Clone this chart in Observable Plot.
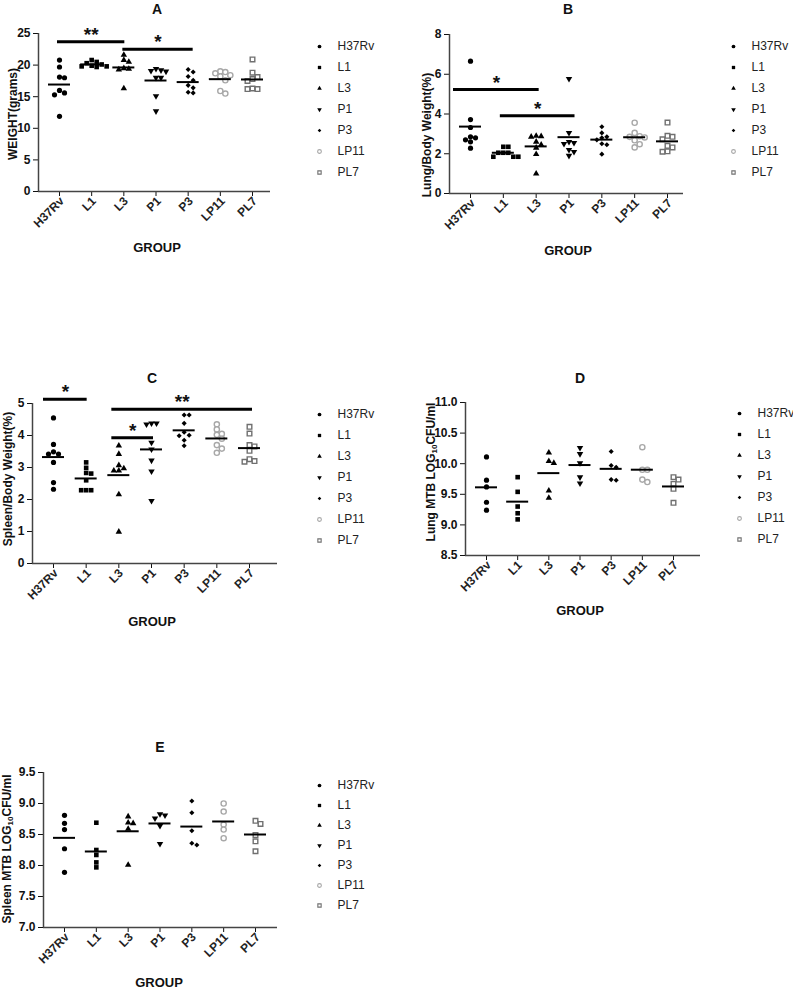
<!DOCTYPE html>
<html><head><meta charset="utf-8">
<script src="https://cdn.jsdelivr.net/npm/d3@7"></script>
<script src="https://cdn.jsdelivr.net/npm/@observablehq/plot@0.6"></script>
<style>
body{margin:0;background:#fff;}
#root{position:relative;width:793px;height:992px;overflow:hidden;font-family:"Liberation Sans",Arial,sans-serif;color:#111;}
.abs{position:absolute;}
.ttl{font-weight:bold;font-size:14px;transform:translate(-50%,-50%);white-space:nowrap;}
.glab{font-weight:bold;font-size:13px;transform:translate(-50%,-50%);white-space:nowrap;}
.ylab{font-weight:bold;font-size:12px;transform:translate(-50%,-50%) rotate(-90deg);white-space:nowrap;}
.ylab sub{font-size:8px;vertical-align:-2px;}
.xlab{position:absolute;font-weight:bold;font-size:12px;line-height:12px;color:#222;white-space:nowrap;transform-origin:100% 50%;transform:translate(-100%,-50%) rotate(-45deg);}
</style></head><body><div id="root"></div>
<script>
// ---------- data ----------
const groups = ["H37Rv","L1","L3","P1","P3","LP11","PL7"];

const weightA = [
  [20.8, 19.7, 18.1, 18.0, 16.0, 15.6, 15.3, 11.9],
  [20.8, 20.5, 20.3, 20.1, 19.9, 19.8, 19.7, 19.8],
  [21.6, 20.8, 20.5, 19.5, 19.4, 19.3, 16.3],
  [19.4, 19.2, 19.1, 19.0, 18.0, 18.0, 15.1, 12.7],
  [19.3, 18.9, 18.2, 17.6, 16.8, 16.4, 15.7, 15.6],
  [19.0, 18.9, 18.7, 18.4, 18.2, 17.6, 15.9, 15.5],
  [20.9, 18.8, 18.1, 17.8, 17.5, 16.3, 16.2, 16.2]
];
const lungB = [
  [6.66, 3.72, 3.32, 2.85, 2.8, 2.7, 2.6, 2.28],
  [2.35, 2.35, 2.05, 2.05, 2.05, 1.85, 1.85, 1.85],
  [2.9, 2.88, 2.85, 2.6, 2.45, 2.3, 1.98, 1.0],
  [5.77, 3.05, 2.6, 2.55, 2.5, 2.2, 2.1, 1.9],
  [3.36, 3.05, 2.85, 2.8, 2.7, 2.5, 2.45, 1.98],
  [3.56, 3.05, 2.88, 2.85, 2.82, 2.68, 2.48, 2.32],
  [3.57, 2.9, 2.85, 2.73, 2.4, 2.32, 2.12, 2.1]
];
const spleenC = [
  [4.55, 3.72, 3.49, 3.42, 3.42, 3.16, 2.53, 2.32],
  [3.16, 2.99, 2.83, 2.81, 2.6, 2.29, 2.29, 2.29],
  [3.68, 3.42, 3.07, 2.97, 2.9, 2.9, 2.16, 0.99],
  [4.38, 4.35, 4.38, 3.78, 3.57, 3.22, 2.88, 1.96],
  [4.64, 4.64, 4.38, 4.1, 4.01, 3.99, 3.85, 3.68],
  [4.35, 4.19, 4.05, 4.02, 3.9, 3.7, 3.59, 3.46],
  [4.27, 4.06, 3.7, 3.66, 3.52, 3.26, 3.2, 3.18]
];
const lungD = [
  [10.11, 9.73, 9.62, 9.37, 9.24],
  [9.78, 9.54, 9.30, 9.19, 9.09],
  [10.18, 10.04, 10.01, 9.56, 9.44],
  [10.26, 10.16, 10.01, 9.78, 9.68],
  [10.2, 9.97, 9.94, 9.74, 9.73],
  [10.27, 9.9, 9.9, 9.74, 9.7],
  [9.78, 9.74, 9.67, 9.59, 9.36]
];
const spleenE = [
  [8.81, 8.68, 8.58, 8.27, 7.89],
  [8.69, 8.25, 8.17, 8.05, 7.97],
  [8.79, 8.69, 8.68, 8.59, 8.01],
  [8.83, 8.81, 8.76, 8.64, 8.35],
  [9.04, 8.85, 8.56, 8.36, 8.33],
  [9.0, 8.87, 8.66, 8.58, 8.44],
  [8.72, 8.67, 8.49, 8.39, 8.23]
];

// significance bars: [from, to, y value, label]
const sigA = [["H37Rv","L3",23.7,"**"],["L3","P3",22.5,"*"]];
const sigB = [["H37Rv","L3",5.23,"*"],["L1","P1",3.91,"*"]];
const sigC = [["H37Rv","L1",5.13,"*"],["L3","PL7",4.82,"**"],["L3","P1",3.93,"*"]];

const ticksA = [0,5,10,15,20,25];
const ticksB = [0,2,4,6,8];
const ticksC = [0,1,2,3,4,5];
const ticksD = [8.5,9.0,9.5,10.0,10.5,11.0];
const ticksE = [7.0,7.5,8.0,8.5,9.0,9.5];

// ---------- styles / layout ----------
const triDown = {draw(ctx, size){ const s3=Math.sqrt(3); const y=Math.sqrt(size/(s3*3)); ctx.moveTo(0,y*2); ctx.lineTo(-s3*y,-y); ctx.lineTo(s3*y,-y); ctx.closePath(); }};
const symStyle = [
  {symbol:"circle", fill:"#000", stroke:"none", r:2.6},
  {symbol:"square", fill:"#000", stroke:"none", r:2.6},
  {symbol:"triangle", fill:"#000", stroke:"none", r:2.4},
  {symbol:triDown, fill:"#000", stroke:"none", r:2.4},
  {symbol:"diamond2", fill:"#000", stroke:"none", r:2.3},
  {symbol:"circle", fill:"#fff", stroke:"#a8a8a8", open:true, r:2.6},
  {symbol:"square", fill:"#fff", stroke:"#707070", open:true, r:2.6}
];
const FONT = "'Liberation Sans', Arial, sans-serif";
const root = document.getElementById("root");

function place(el, left, top){ el.style.position="absolute"; el.style.left=left+"px"; el.style.top=top+"px"; root.appendChild(el); }
function label(cls, html, x, y){ const d=document.createElement("div"); d.className="abs "+cls; d.innerHTML=html; d.style.left=x+"px"; d.style.top=y+"px"; root.appendChild(d); }

function panel(cfg){
  const {values, yDomain, yTicks, fmt, sig, sigPad, L} = cfg;
  const step = (L.c6 - L.c0)/6;
  const xDomain = [(L.fL - L.c0)/step, (L.fR - L.c0)/step];
  const pxY = (L.fB - L.fT)/(yDomain[1]-yDomain[0]);
  const dPx = 5, vThr = 4.6;
  const pts = [];
  values.forEach((vals, gi) => {
    const placed = [];
    [...vals].sort((a,b)=>b-a).forEach(v => {
      const yp = v*pxY;
      for (let k=0;k<20;k++){
        const off = (k===0?0:(k%2? Math.ceil(k/2) : -k/2))*dPx;
        if (!placed.some(p => Math.abs(p.off-off) < dPx*0.95 && Math.abs(p.yp-yp) < vThr)) { placed.push({off, yp}); pts.push({g:gi, v, x: gi + off/step}); break; }
      }
    });
  });
  const means = values.map((vals,gi)=>({g:gi, m:d3.mean(vals)}));
  const hw = 11/step;
  const marks = [
    Plot.axisY({ticks:yTicks, tickFormat:fmt, tickSize:5, tickPadding:3, fontSize:12, fontWeight:"bold", label:null}),
    Plot.axisX({ticks:d3.range(7), tickFormat:()=>"", tickSize:5, label:null}),
    Plot.ruleX([xDomain[0]], {stroke:"#444", strokeWidth:1.5}),
    Plot.ruleY([yDomain[0]], {stroke:"#444", strokeWidth:1.5}),
  ];
  symStyle.forEach((s, gi) => {
    marks.push(Plot.dot(pts.filter(p=>p.g===gi), {x:"x", y:"v", symbol:s.symbol, r:s.r, fill:s.fill, stroke:s.stroke, strokeWidth:1.4}));
  });
  marks.push(Plot.ruleY(means, {x1:d=>d.g-hw, x2:d=>d.g+hw, y:"m", stroke:"#000", strokeWidth:2}));
  if (sig){
    const sd = sig.map((s,i)=>({x1: groups.indexOf(s[0]) + sigPad[i][0]/step, x2: groups.indexOf(s[1]) + sigPad[i][1]/step, y:s[2], t:s[3]}));
    marks.push(Plot.ruleY(sd, {x1:"x1", x2:"x2", y:"y", stroke:"#000", strokeWidth:3}));
    marks.push(Plot.text(sd, {x:d=>(d.x1+d.x2)/2, y:"y", text:"t", dy:-1, lineAnchor:"bottom", fontSize:19, fontWeight:"bold", fill:"#111"}));
  }
  const svg = Plot.plot({
    width:L.w, height:L.h,
    marginLeft:L.fL-L.left, marginRight:L.left+L.w-L.fR, marginTop:L.fT-L.top, marginBottom:L.top+L.h-L.fB,
    x:{domain:xDomain}, y:{domain:yDomain},
    style:{fontFamily:FONT, background:"transparent", overflow:"visible"},
    marks
  });
  place(svg, L.left, L.top);
  // category tick labels, rotated -45°, placed through the plot's own x scale
  const sx = svg.scale ? svg.scale("x") : null;
  groups.forEach((g, i) => {
    const px = sx && sx.apply ? L.left + sx.apply(i) : L.c0 + i*step;
    const d = document.createElement("div");
    d.className = "xlab"; d.textContent = g;
    d.style.left = (px + 3) + "px"; d.style.top = (L.fB + 8) + "px";
    root.appendChild(d);
  });
}

function legend(mx, y0, stepY){
  const h = stepY*6;
  const marks = symStyle.map((s,gi)=>Plot.dot([groups[gi]], {x:()=>0, y:d=>d, symbol:s.symbol, r:s.r*0.72, fill:s.fill, stroke:s.stroke, strokeWidth:1.1}));
  marks.push(Plot.text(groups, {x:()=>0, y:d=>d, text:d=>d, dx:18, textAnchor:"start", fontSize:12, fill:"#222"}));
  const svg = Plot.plot({width:90, height:h+20, marginTop:10, marginBottom:10, marginLeft:6, marginRight:0,
    x:{domain:[0,1], axis:null}, y:{type:"point", domain:groups, padding:0, axis:null},
    style:{fontFamily:FONT, background:"transparent", overflow:"visible"}, marks});
  place(svg, mx-6, y0-10);
}

const f0 = d=>d3.format("d")(d);
const f1 = d=>d3.format(".1f")(d);

panel({values:weightA, yDomain:[0,25], yTicks:ticksA, fmt:f0, sig:sigA, sigPad:[[-2,1],[-1,5]],
  L:{left:0, top:0, w:290, h:265, fL:38, fR:270, fT:33, fB:191, c0:59, c6:252}});
panel({values:lungB, yDomain:[0,8], yTicks:ticksB, fmt:f0, sig:sigB, sigPad:[[-17,3],[-3,6]],
  L:{left:400, top:0, w:300, h:265, fL:449, fR:683, fT:34, fB:193, c0:470, c6:667}});
panel({values:spleenC, yDomain:[0,5], yTicks:ticksC, fmt:f0, sig:sigC, sigPad:[[-10,1],[-7,3],[-7,2]],
  L:{left:0, top:370, w:290, h:260, fL:32, fR:277, fT:403, fB:563, c0:53, c6:249}});
panel({values:lungD, yDomain:[8.5,11], yTicks:ticksD, fmt:f1,
  L:{left:400, top:370, w:302, h:250, fL:465, fR:700, fT:402, fB:555, c0:486, c6:673}});
panel({values:spleenE, yDomain:[7,9.5], yTicks:ticksE, fmt:f1,
  L:{left:0, top:740, w:290, h:252, fL:43, fR:277, fT:772, fB:927, c0:64, c6:255}});

legend(319, 45, 21.2);
legend(733, 45, 21.3);
legend(319, 413, 21.2);
legend(739, 412, 21.2);
legend(319, 783, 20.8);

label("ttl","A",157,9); label("ttl","B",568,9); label("ttl","C",152,378); label("ttl","D",580,378); label("ttl","E",160,747);
label("glab","GROUP",157,247); label("glab","GROUP",568,250); label("glab","GROUP",152,621); label("glab","GROUP",580,610); label("glab","GROUP",159,982);
label("ylab","WEIGHT(grams)",13,114);
label("ylab","Lung/Body Weight(%)",427,135);
label("ylab","Spleen/Body Weight(%)",8,479);
label("ylab","Lung MTB LOG<sub>10</sub>CFU/ml",431,472);
label("ylab","Spleen MTB LOG<sub>10</sub>CFU/ml",7,849);
</script></body></html>
